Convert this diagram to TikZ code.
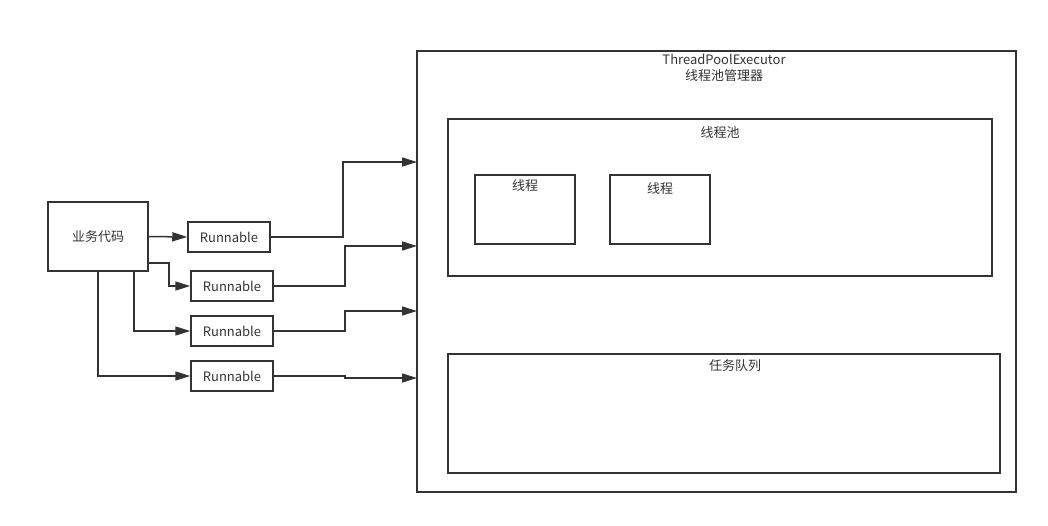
\documentclass[tikz,border=0pt]{standalone}
\usepackage{fontspec}
\setmainfont{Noto Sans CJK SC}
\usetikzlibrary{arrows.meta}
\definecolor{ln}{HTML}{333333}
\begin{document}
\begin{tikzpicture}[x=1pt,y=-1pt,
  box/.style={draw=ln,line width=1.5pt},
  lbl/.style={text=ln,font=\fontsize{13}{15.5}\selectfont,inner sep=0pt},
  conn/.style={draw=ln,line width=1.5pt,-{Triangle[length=15pt,width=9pt]}}]
\useasboundingbox (0,0) rectangle (1048,525);
% left
\node[box,minimum width=100pt,minimum height=69pt,inner sep=0pt,lbl] (biz) at (98,236.5) {业务代码};
\node[box,minimum width=82pt,minimum height=30pt,inner sep=0pt,lbl] (r1) at (229,237) {Runnable};
\node[box,minimum width=82pt,minimum height=30pt,inner sep=0pt,lbl] (r2) at (232,286) {Runnable};
\node[box,minimum width=82pt,minimum height=30pt,inner sep=0pt,lbl] (r3) at (232,331) {Runnable};
\node[box,minimum width=82pt,minimum height=30pt,inner sep=0pt,lbl] (r4) at (232,376) {Runnable};
% right containers
\draw[box] (417,51) rectangle (1016,492);
\node[lbl,align=center] (tpe) at (724,68) {ThreadPoolExecutor\\线程池管理器};
\draw[box] (448,119) rectangle (992,276);
\node[lbl] (poolt) at (720,133) {线程池};
\draw[box] (475,175) rectangle (575,244);
\node[lbl] (t1) at (525,186) {线程};
\draw[box] (610,175) rectangle (710,244);
\node[lbl] (t2) at (660,189) {线程};
\draw[box] (448,354) rectangle (1000,473);
\node[lbl] (q) at (735,366) {任务队列};
\coordinate (e1) at (417,162);
\coordinate (e2) at (417,246);
\coordinate (e3) at (417,311);
\coordinate (e4) at (417,378);
\coordinate (s2) at (148,263);
\coordinate (s3) at (134,271);
\coordinate (s4) at (98,271);
% connectors
\draw[conn] (biz.east) -- (r1.west);
\draw[conn] (s2) -| (169,286) -- (r2.west);
\draw[conn] (s3) |- (r3.west);
\draw[conn] (s4) |- (r4.west);
\draw[conn] (r1.east) -| (343,162) -- (e1);
\draw[conn] (r2.east) -| (345,246) -- (e2);
\draw[conn] (r3.east) -| (345,311) -- (e3);
\draw[conn] (r4.east) -- (345,376) -- (345,378) -- (e4);
\end{tikzpicture}
\end{document}
